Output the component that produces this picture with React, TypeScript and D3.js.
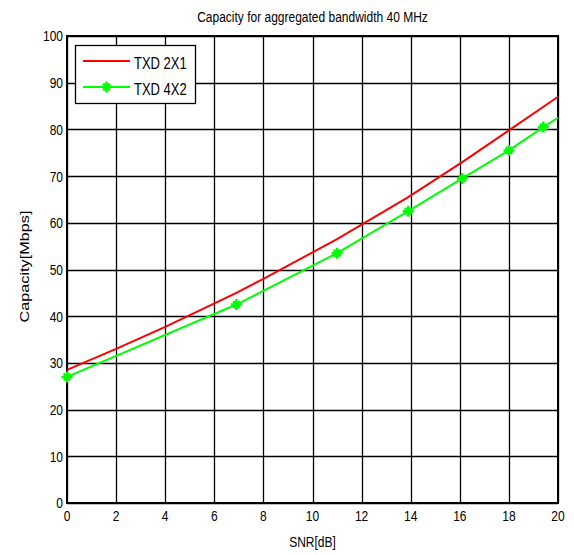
import * as d3 from 'd3';
import { useEffect, useRef } from 'react';

const snrRed = [0, 2, 4, 6.9, 8, 11, 13.9, 16.1, 18, 20];
const capRed = [28.5, 33, 37.7, 45, 48, 56.5, 65.5, 73, 79.8, 87];

const snrGreen = [0, 6.9, 11, 13.9, 16.1, 18, 19.4, 20];
const capGreen = [27, 42.5, 53.5, 62.5, 69.5, 75.5, 80.5, 82.5];
// markers drawn on these points only (last point is line end)
const markerIdx = [0, 1, 2, 3, 4, 5, 6];

const xTicks = [0, 2, 4, 6, 8, 10, 12, 14, 16, 18, 20];
const yTicks = [0, 10, 20, 30, 40, 50, 60, 70, 80, 90, 100];

const seriesNames = ['TXD 2X1', 'TXD 4X2'];

const App = () => {
  const ref = useRef<SVGSVGElement>(null);

  useEffect(() => {
    const svg = d3.select(ref.current);
    svg.selectAll('*').remove();

    const margin = { top: 36, left: 67, right: 16, bottom: 52 };
    const width = 574;
    const height = 555;
    const x = d3.scaleLinear().domain([0, 20]).range([margin.left, width - margin.right]);
    const y = d3.scaleLinear().domain([0, 100]).range([height - margin.bottom, margin.top]);
    const font = 'Liberation Sans, Arial, sans-serif';
    // the reference text is a bit taller than wide
    const stretch = 1.25;

    const label = (sel, tx, ty, txt, anchor, size = 12) =>
      sel
        .append('text')
        .attr('transform', `translate(${tx},${ty}) scale(1,${stretch})`)
        .attr('text-anchor', anchor)
        .attr('font-family', font)
        .attr('font-size', size)
        .attr('fill', '#000')
        .text(txt);

    svg.append('rect').attr('width', width).attr('height', height).attr('fill', '#fff');

    // grid
    const g = svg.append('g');
    g.selectAll('.gx')
      .data(xTicks)
      .enter()
      .append('line')
      .attr('x1', (d) => Math.round(x(d)) + 0.5)
      .attr('x2', (d) => Math.round(x(d)) + 0.5)
      .attr('y1', y(0))
      .attr('y2', y(100))
      .attr('stroke', '#000')
      .attr('stroke-width', 1.3);
    g.selectAll('.gy')
      .data(yTicks)
      .enter()
      .append('line')
      .attr('y1', (d) => Math.round(y(d)) + 0.5)
      .attr('y2', (d) => Math.round(y(d)) + 0.5)
      .attr('x1', x(0))
      .attr('x2', x(20))
      .attr('stroke', '#000')
      .attr('stroke-width', 1.3);

    // frame
    svg
      .append('rect')
      .attr('x', x(0))
      .attr('y', y(100))
      .attr('width', x(20) - x(0))
      .attr('height', y(0) - y(100))
      .attr('fill', 'none')
      .attr('stroke', '#000')
      .attr('stroke-width', 2);

    // tick labels
    xTicks.forEach((d) => label(svg, x(d), y(0) + 18, d, 'middle'));
    yTicks.forEach((d) => label(svg, x(0) - 4, y(d) + 5.4, d, 'end'));

    // titles
    label(svg, (x(0) + x(20)) / 2, 22, 'Capacity for aggregated bandwidth 40 MHz', 'middle');
    label(svg, (x(0) + x(20)) / 2, 547, 'SNR[dB]', 'middle');
    svg
      .append('text')
      .attr('transform', `translate(29, ${(y(0) + y(100)) / 2 - 3}) rotate(-90) scale(${stretch},1)`)
      .attr('text-anchor', 'middle')
      .attr('font-family', font)
      .attr('font-size', 13)
      .text('Capacity[Mbps]');

    const line = d3
      .line<[number, number]>()
      .x((d) => x(d[0]))
      .y((d) => y(d[1]));

    const redData = snrRed.map((s, i) => [s, capRed[i]] as [number, number]);
    const greenData = snrGreen.map((s, i) => [s, capGreen[i]] as [number, number]);

    svg
      .append('path')
      .datum(redData)
      .attr('d', line)
      .attr('fill', 'none')
      .attr('stroke', '#ff0000')
      .attr('stroke-width', 2);
    svg
      .append('path')
      .datum(greenData)
      .attr('d', line)
      .attr('fill', 'none')
      .attr('stroke', '#00ff00')
      .attr('stroke-width', 2);

    const star = (sel, cx, cy, r) => {
      const gg = sel.append('g').attr('transform', `translate(${cx},${cy})`);
      gg.append('path')
        .attr('d', `M${-r},0H${r}M0,${-r}V${r}M${-r * 0.6},${-r * 0.6}L${r * 0.6},${r * 0.6}M${-r * 0.6},${r * 0.6}L${r * 0.6},${-r * 0.6}`)
        .attr('stroke', '#00ff00')
        .attr('stroke-width', 2.5)
        .attr('fill', 'none');
    };
    markerIdx.forEach((i) => star(svg, x(snrGreen[i]), y(capGreen[i]), 5.5));

    // legend
    const lg = svg.append('g');
    lg.append('rect')
      .attr('x', 75.5)
      .attr('y', 45.5)
      .attr('width', 120)
      .attr('height', 58)
      .attr('fill', '#fff')
      .attr('stroke', '#000')
      .attr('stroke-width', 1.3);
    const colors = ['#ff0000', '#00ff00'];
    seriesNames.forEach((name, i) => {
      const ly = 61 + i * 26;
      lg.append('line')
        .attr('x1', 83)
        .attr('x2', 130)
        .attr('y1', ly)
        .attr('y2', ly)
        .attr('stroke', colors[i])
        .attr('stroke-width', 2);
      if (i === 1) star(lg, 106.5, ly, 5.5);
      label(lg, 134, ly + 8, name, 'start', 13);
    });
  }, []);

  return <svg ref={ref} width={574} height={555} style={{ position: 'absolute', left: 0, top: 0 }}></svg>;
};

export default App;
